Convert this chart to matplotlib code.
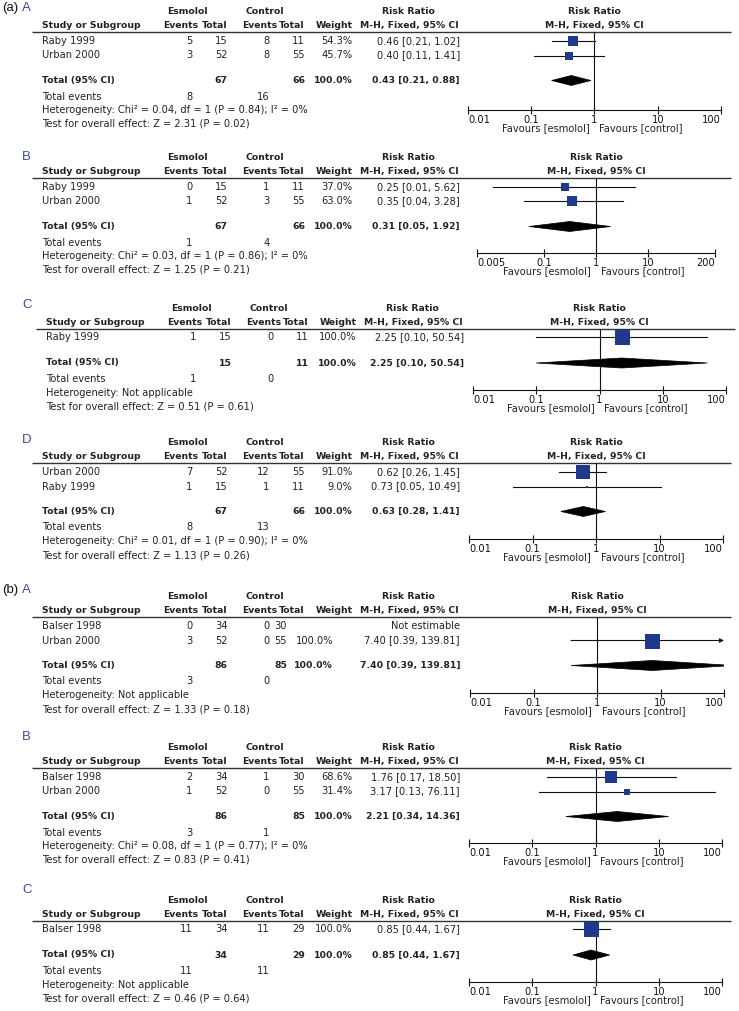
import matplotlib
matplotlib.use("Agg")
import matplotlib.pyplot as plt
from matplotlib import transforms
from matplotlib.patches import Polygon
from matplotlib.ticker import NullLocator

W, H = 739, 1011

# ---------------- data ----------------
group_labels = ["(a)", "(b)"]
sub_labels = ["A", "B", "C", "D", "A", "B", "C"]

aA_studies = ["Raby 1999", "Urban 2000"]
aA_esm_ev = [5, 3]
aA_esm_n = [15, 52]
aA_ctl_ev = [8, 8]
aA_ctl_n = [11, 55]
aA_weight = [54.3, 45.7]
aA_rr = [0.46, 0.40]
aA_lo = [0.21, 0.11]
aA_hi = [1.02, 1.41]
aA_total = [67, 66, 8, 16]          # esm N, ctl N, esm events, ctl events
aA_pooled = [0.43, 0.21, 0.88]
aA_het = "Heterogeneity: Chi² = 0.04, df = 1 (P = 0.84); I² = 0%"
aA_test = "Test for overall effect: Z = 2.31 (P = 0.02)"
aA_ticks = ["0.01", "0.1", "1", "10", "100"]

aB_studies = ["Raby 1999", "Urban 2000"]
aB_esm_ev = [0, 1]
aB_esm_n = [15, 52]
aB_ctl_ev = [1, 3]
aB_ctl_n = [11, 55]
aB_weight = [37.0, 63.0]
aB_rr = [0.25, 0.35]
aB_lo = [0.01, 0.04]
aB_hi = [5.62, 3.28]
aB_total = [67, 66, 1, 4]
aB_pooled = [0.31, 0.05, 1.92]
aB_het = "Heterogeneity: Chi² = 0.03, df = 1 (P = 0.86); I² = 0%"
aB_test = "Test for overall effect: Z = 1.25 (P = 0.21)"
aB_ticks = ["0.005", "0.1", "1", "10", "200"]

aC_studies = ["Raby 1999"]
aC_esm_ev = [1]
aC_esm_n = [15]
aC_ctl_ev = [0]
aC_ctl_n = [11]
aC_weight = [100.0]
aC_rr = [2.25]
aC_lo = [0.10]
aC_hi = [50.54]
aC_total = [15, 11, 1, 0]
aC_pooled = [2.25, 0.10, 50.54]
aC_het = "Heterogeneity: Not applicable"
aC_test = "Test for overall effect: Z = 0.51 (P = 0.61)"
aC_ticks = ["0.01", "0.1", "1", "10", "100"]

aD_studies = ["Urban 2000", "Raby 1999"]
aD_esm_ev = [7, 1]
aD_esm_n = [52, 15]
aD_ctl_ev = [12, 1]
aD_ctl_n = [55, 11]
aD_weight = [91.0, 9.0]
aD_rr = [0.62, 0.73]
aD_lo = [0.26, 0.05]
aD_hi = [1.45, 10.49]
aD_total = [67, 66, 8, 13]
aD_pooled = [0.63, 0.28, 1.41]
aD_het = "Heterogeneity: Chi² = 0.01, df = 1 (P = 0.90); I² = 0%"
aD_test = "Test for overall effect: Z = 1.13 (P = 0.26)"
aD_ticks = ["0.01", "0.1", "1", "10", "100"]

bA_studies = ["Balser 1998", "Urban 2000"]
bA_esm_ev = [0, 3]
bA_esm_n = [34, 52]
bA_ctl_ev = [0, 0]
bA_ctl_n = [30, 55]
bA_weight = [None, 100.0]
bA_rr = [None, 7.40]
bA_lo = [None, 0.39]
bA_hi = [None, 139.81]
bA_total = [86, 85, 3, 0]
bA_pooled = [7.40, 0.39, 139.81]
bA_het = "Heterogeneity: Not applicable"
bA_test = "Test for overall effect: Z = 1.33 (P = 0.18)"
bA_ticks = ["0.01", "0.1", "1", "10", "100"]

bB_studies = ["Balser 1998", "Urban 2000"]
bB_esm_ev = [2, 1]
bB_esm_n = [34, 52]
bB_ctl_ev = [1, 0]
bB_ctl_n = [30, 55]
bB_weight = [68.6, 31.4]
bB_rr = [1.76, 3.17]
bB_lo = [0.17, 0.13]
bB_hi = [18.50, 76.11]
bB_total = [86, 85, 3, 1]
bB_pooled = [2.21, 0.34, 14.36]
bB_het = "Heterogeneity: Chi² = 0.08, df = 1 (P = 0.77); I² = 0%"
bB_test = "Test for overall effect: Z = 0.83 (P = 0.41)"
bB_ticks = ["0.01", "0.1", "1", "10", "100"]

bC_studies = ["Balser 1998"]
bC_esm_ev = [11]
bC_esm_n = [34]
bC_ctl_ev = [11]
bC_ctl_n = [29]
bC_weight = [100.0]
bC_rr = [0.85]
bC_lo = [0.44]
bC_hi = [1.67]
bC_total = [34, 29, 11, 11]
bC_pooled = [0.85, 0.44, 1.67]
bC_het = "Heterogeneity: Not applicable"
bC_test = "Test for overall effect: Z = 0.46 (P = 0.64)"
bC_ticks = ["0.01", "0.1", "1", "10", "100"]

panels = [
    dict(studies=aA_studies, ee=aA_esm_ev, en=aA_esm_n, ce=aA_ctl_ev, cn=aA_ctl_n, w=aA_weight,
         rr=aA_rr, lo=aA_lo, hi=aA_hi, tot=aA_total, pool=aA_pooled, het=aA_het, test=aA_test, ticks=aA_ticks),
    dict(studies=aB_studies, ee=aB_esm_ev, en=aB_esm_n, ce=aB_ctl_ev, cn=aB_ctl_n, w=aB_weight,
         rr=aB_rr, lo=aB_lo, hi=aB_hi, tot=aB_total, pool=aB_pooled, het=aB_het, test=aB_test, ticks=aB_ticks),
    dict(studies=aC_studies, ee=aC_esm_ev, en=aC_esm_n, ce=aC_ctl_ev, cn=aC_ctl_n, w=aC_weight,
         rr=aC_rr, lo=aC_lo, hi=aC_hi, tot=aC_total, pool=aC_pooled, het=aC_het, test=aC_test, ticks=aC_ticks),
    dict(studies=aD_studies, ee=aD_esm_ev, en=aD_esm_n, ce=aD_ctl_ev, cn=aD_ctl_n, w=aD_weight,
         rr=aD_rr, lo=aD_lo, hi=aD_hi, tot=aD_total, pool=aD_pooled, het=aD_het, test=aD_test, ticks=aD_ticks),
    dict(studies=bA_studies, ee=bA_esm_ev, en=bA_esm_n, ce=bA_ctl_ev, cn=bA_ctl_n, w=bA_weight,
         rr=bA_rr, lo=bA_lo, hi=bA_hi, tot=bA_total, pool=bA_pooled, het=bA_het, test=bA_test, ticks=bA_ticks),
    dict(studies=bB_studies, ee=bB_esm_ev, en=bB_esm_n, ce=bB_ctl_ev, cn=bB_ctl_n, w=bB_weight,
         rr=bB_rr, lo=bB_lo, hi=bB_hi, tot=bB_total, pool=bB_pooled, het=bB_het, test=bB_test, ticks=bB_ticks),
    dict(studies=bC_studies, ee=bC_esm_ev, en=bC_esm_n, ce=bC_ctl_ev, cn=bC_ctl_n, w=bC_weight,
         rr=bC_rr, lo=bC_lo, hi=bC_hi, tot=bC_total, pool=bC_pooled, het=bC_het, test=bC_test, ticks=bC_ticks),
]

# ---------------- layout (pixels) ----------------
label_y = [8, 157, 305, 440, 590, 737, 890]
line_y = [32, 178, 329, 463, 617, 768, 921]
axis_y = [110, 253, 390, 539, 693, 843, 982]
dx_list = [0, 0, 4, 0, 0, 0, 0]
forest_lr = [(468, 721), (477, 715), (473, 726), (469, 723), (470, 724), (469, 722), (469, 722)]
group_at = {0: "(a)", 4: "(b)"}

TXT = "#222222"
BLUE_SQ = "#1f3a8c"
BLUE_LBL = "#3a4aa6"
FAM = "DejaVu Sans"
FS = 7.1
FSB = 6.7

fig = plt.figure(figsize=(W / 100, H / 100), dpi=100)
bg = fig.add_axes([0, 0, 1, 1])
bg.set_xlim(0, W)
bg.set_ylim(H, 0)
bg.axis("off")


def txt(x, y, s, ha="left", bold=False, **kw):
    bg.text(x, y, s, ha=ha, va="center", fontsize=FSB if bold else FS,
            fontweight="bold" if bold else "normal", color=TXT, family=FAM, **kw)


for i, p in enumerate(panels):
    dx = dx_list[i]
    ly = line_y[i]
    ay = axis_y[i]
    n = len(p["studies"])
    if n == 2:
        row_y = [ly + 9, ly + 23.5]
        tot_y = ly + 48.5
    else:
        row_y = [ly + 8]
        tot_y = ly + 34
    te_y = tot_y + 16
    het_y = tot_y + 29.5
    test_y = tot_y + 43.5

    # panel labels
    if i in group_at:
        bg.text(2, label_y[i], group_at[i], ha="left", va="center", fontsize=9.5,
                family="Liberation Sans", color="#111111")
    bg.text(22, label_y[i], sub_labels[i], ha="left", va="center", fontsize=9.5,
            family="Liberation Sans", color=BLUE_LBL)

    # column x positions
    x_study = 42 + dx
    x_ev = 192.5 + dx
    x_n = 227.5 + dx
    x_cev = 269.5 + dx
    x_cn = 305 + dx
    x_w = 352.5 + dx
    x_rr = 460 + dx
    if i == 4:  # wide risk-ratio text compresses columns
        x_cn = 287
        x_w = 333
    fl, fr = forest_lr[i]
    x_one = (fl + fr) / 2.0

    gy = ly - 20.5
    cy = ly - 6.5
    # headers
    txt(187.5 + dx, gy, "Esmolol", ha="center", bold=True)
    txt(265 + dx, gy, "Control", ha="center", bold=True)
    txt(408 + dx, gy, "Risk Ratio", ha="center", bold=True)
    txt(x_one, gy, "Risk Ratio", ha="center", bold=True)
    txt(x_study, cy, "Study or Subgroup", bold=True)
    txt(198 + dx, cy, "Events", ha="right", bold=True)
    txt(227.5 + dx, cy, "Total", ha="right", bold=True)
    txt(277 + dx, cy, "Events", ha="right", bold=True)
    txt(304.5 + dx, cy, "Total", ha="right", bold=True)
    txt(352.5 + dx, cy, "Weight", ha="right", bold=True)
    txt(409 + dx, cy, "M-H, Fixed, 95% CI", ha="center", bold=True)
    txt(x_one, cy, "M-H, Fixed, 95% CI", ha="center", bold=True)
    bg.plot([32 + dx, 731 + dx], [ly, ly], color="#333333", lw=1.0, solid_capstyle="butt")

    # study rows
    for k in range(n):
        y = row_y[k]
        txt(x_study, y, p["studies"][k])
        txt(x_ev, y, str(p["ee"][k]), ha="right")
        txt(x_n, y, str(p["en"][k]), ha="right")
        txt(x_cev, y, str(p["ce"][k]), ha="right")
        txt(x_cn, y, str(p["cn"][k]), ha="right")
        if p["w"][k] is not None:
            txt(x_w, y, f"{p['w'][k]:.1f}%", ha="right")
            txt(x_rr, y, f"{p['rr'][k]:.2f} [{p['lo'][k]:.2f}, {p['hi'][k]:.2f}]", ha="right")
        else:
            txt(x_rr, y, "Not estimable", ha="right")

    # totals
    en_t, cn_t, ee_t, ce_t = p["tot"]
    est, plo, phi = p["pool"]
    txt(x_study, tot_y, "Total (95% CI)", bold=True)
    txt(x_n, tot_y, str(en_t), ha="right", bold=True)
    txt(x_cn, tot_y, str(cn_t), ha="right", bold=True)
    txt(x_w, tot_y, "100.0%", ha="right", bold=True)
    txt(x_rr, tot_y, f"{est:.2f} [{plo:.2f}, {phi:.2f}]", ha="right", bold=True)
    txt(x_study, te_y, "Total events")
    txt(x_ev, te_y, str(ee_t), ha="right")
    txt(x_cev, te_y, str(ce_t), ha="right")
    txt(x_study, het_y, p["het"])
    txt(x_study, test_y, p["test"])

    # forest axes: y data == pixel rows
    ax = fig.add_axes([fl / W, 1 - ay / H, (fr - fl) / W, (ay - ly) / H])
    ax.set_xscale("log")
    tick_vals = [float(t) for t in p["ticks"]]
    ax.set_xlim(tick_vals[0], tick_vals[-1])
    ax.set_ylim(ay, ly)
    ax.patch.set_visible(False)
    for s in ["top", "left", "right"]:
        ax.spines[s].set_visible(False)
    ax.spines["bottom"].set_linewidth(0.8)
    ax.spines["bottom"].set_color("#111111")
    ax.set_yticks([])
    ax.xaxis.set_minor_locator(NullLocator())
    ax.set_xticks(tick_vals)
    ax.set_xticklabels(p["ticks"], fontsize=FS, family=FAM, color=TXT)
    ax.tick_params(axis="x", direction="inout", length=6, width=0.8, pad=0.5, colors="#111111")
    labs = ax.get_xticklabels()
    labs[0].set_ha("left")
    labs[-1].set_ha("right")
    ax.axvline(1, color="#111111", lw=0.8, zorder=1)

    for k in range(n):
        if p["rr"][k] is None:
            continue
        y = row_y[k]
        lo, hi, rr, w = p["lo"][k], p["hi"][k], p["rr"][k], p["w"][k]
        if hi > tick_vals[-1]:
            ax.annotate("", xy=(tick_vals[-1], y), xytext=(lo, y),
                        arrowprops=dict(arrowstyle="-|>", color="#111111", lw=0.8,
                                        mutation_scale=6, shrinkA=0, shrinkB=0),
                        annotation_clip=False, zorder=2)
        else:
            ax.plot([lo, hi], [y, y], color="#111111", lw=0.8, zorder=2)
        side = 15.0 * (w / 100.0) ** 0.75
        ax.plot([rr], [y], marker="s", ms=side * 0.72, color=BLUE_SQ, mew=0, zorder=3)

    dpoly = Polygon([(plo, tot_y), (est, tot_y - 5), (phi, tot_y), (est, tot_y + 5)],
                    closed=True, facecolor="black", edgecolor="black", lw=0.5, zorder=3)
    ax.add_patch(dpoly)

    off_l = transforms.offset_copy(ax.transData, fig=fig, x=-5, y=0, units="dots")
    off_r = transforms.offset_copy(ax.transData, fig=fig, x=5, y=0, units="dots")
    ax.text(1, ay + 18, "Favours [esmolol]", transform=off_l, ha="right", va="center",
            fontsize=FS, family=FAM, color=TXT, clip_on=False)
    ax.text(1, ay + 18, "Favours [control]", transform=off_r, ha="left", va="center",
            fontsize=FS, family=FAM, color=TXT, clip_on=False)

fig.savefig("out.png", dpi=100, facecolor="white")
